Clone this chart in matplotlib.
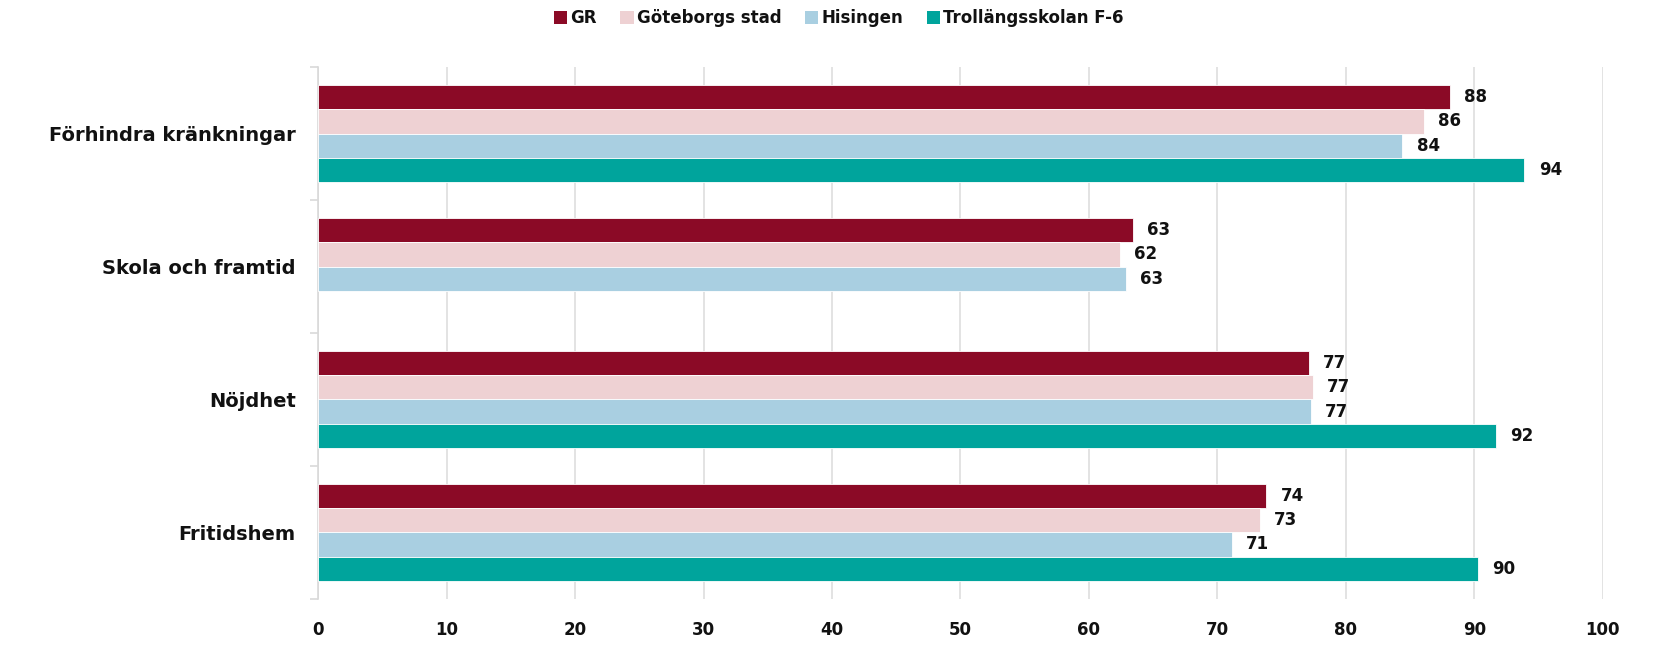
import numpy as np
import matplotlib.pyplot as plt
from matplotlib.patches import Patch

categories = ['Förhindra kränkningar', 'Skola och framtid', 'Nöjdhet', 'Fritidshem']
series = ['GR', 'Göteborgs stad', 'Hisingen', 'Trollängsskolan F-6']
colors = ['#8B0A26', '#EED1D3', '#A9CFE1', '#00A49C']

gr = [88.1, 63.4, 77.1, 73.8]
gbg = [86.1, 62.4, 77.4, 73.3]
hisingen = [84.4, 62.9, 77.3, 71.1]
troll = [93.9, np.nan, 91.7, 90.3]
values = [gr, gbg, hisingen, troll]

plt.rcParams['font.family'] = 'DejaVu Sans'
plt.rcParams['font.weight'] = 'bold'

fig = plt.figure(figsize=(16.61, 6.51), dpi=100)
ax = fig.add_axes([0.1915, 0.080, 0.7735, 0.817])

group_h = 0.725
bh = group_h / len(series)
y = np.arange(len(categories))

for i, (vals, col) in enumerate(zip(values, colors)):
    pos = y - group_h / 2 + (i + 0.5) * bh
    ax.barh(pos, vals, height=bh, color=col, edgecolor='white', linewidth=0.6, zorder=3)
    for p, v in zip(pos, vals):
        if np.isnan(v):
            continue
        ax.text(v + 1.1, p, '%d' % round(v), va='center', ha='left',
                fontsize=12, color='#111111', fontweight='bold')

ax.set_xlim(0, 100)
ax.set_ylim(3.5, -0.5)
ax.set_xticks(range(0, 101, 10))
ax.grid(axis='x', color='#e0e0e0', linewidth=1.3, zorder=0)
ax.set_yticks(y)
ax.set_yticklabels(categories, fontsize=14, fontweight='bold', color='#111111')
ax.set_yticks(np.arange(-0.5, 4, 1), minor=True)
ax.tick_params(axis='y', which='major', length=0, pad=16)
ax.tick_params(axis='y', which='minor', length=6, color='#d9d9d9', width=1.2)
ax.tick_params(axis='x', length=0, pad=16, labelsize=12, labelcolor='#111111')
for lab in ax.get_xticklabels():
    lab.set_fontweight('bold')

for s in ['top', 'right', 'bottom']:
    ax.spines[s].set_visible(False)
ax.spines['left'].set_color('#d9d9d9')
ax.spines['left'].set_linewidth(1.2)

handles = [Patch(facecolor=c, edgecolor='none') for c in colors]
leg = fig.legend(handles, series, loc='center', bbox_to_anchor=(0.505, 0.972), ncol=4,
                 frameon=False, fontsize=12, handlelength=0.8, handleheight=0.8,
                 handletextpad=0.2, columnspacing=1.4)
for t in leg.get_texts():
    t.set_fontweight('bold')
    t.set_color('#111111')

fig.savefig('out.png', dpi=100)
